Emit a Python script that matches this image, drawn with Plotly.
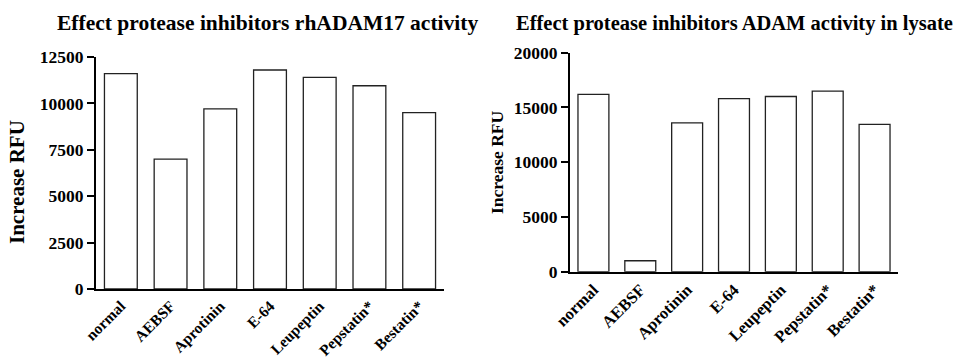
import plotly.graph_objects as go

categories = ["normal", "AEBSF", "Aprotinin", "E-64", "Leupeptin", "Pepstatin*", "Bestatin*"]
rh_adam17 = [11600, 7000, 9700, 11800, 11400, 10950, 9500]
lysate = [16200, 1000, 13600, 15800, 16000, 16500, 13450]
left_ticks = [0, 2500, 5000, 7500, 10000, 12500]
right_ticks = [0, 5000, 10000, 15000, 20000]

FONT = "Liberation Serif"
W, H = 956, 360

fig = go.Figure()
bar_style = dict(marker=dict(color="white", line=dict(color="#222222", width=1.3)), width=0.66, showlegend=False)
fig.add_trace(go.Bar(x=categories, y=rh_adam17, xaxis="x", yaxis="y", **bar_style))
fig.add_trace(go.Bar(x=categories, y=lysate, xaxis="x2", yaxis="y2", **bar_style))

tickfont = dict(family=FONT, size=17.5, color="black", weight="bold")
xcommon = dict(showgrid=False, zeroline=False, showline=True, linecolor="black", linewidth=2,
               ticks="", tickangle=-45,
               range=[-0.5, 6.5], type="category", automargin=False)
ycommon = dict(showgrid=False, zeroline=False, showline=True, linecolor="black", linewidth=2,
               ticks="outside", ticklen=7, tickwidth=2, tickcolor="black", tickfont=tickfont,
               automargin=False)

fig.update_layout(
    width=W, height=H,
    margin=dict(l=0, r=0, t=0, b=0),
    plot_bgcolor="white", paper_bgcolor="white",
    xaxis=dict(domain=[96 / W, 444 / W], anchor="y",
               tickfont=dict(family=FONT, size=15.5, color="black", weight="bold"), **xcommon),
    yaxis=dict(domain=[1 - 289 / H, 1 - 57 / H], anchor="x", range=[0, 12500],
               tickvals=left_ticks, ticktext=[str(v) for v in left_ticks], **ycommon),
    xaxis2=dict(domain=[570 / W, 898 / W], anchor="y2",
                tickfont=dict(family=FONT, size=16.5, color="black", weight="bold"), **xcommon),
    yaxis2=dict(domain=[1 - 271.7 / H, 1 - 52.7 / H], anchor="x2", range=[0, 20000],
                tickvals=right_ticks, ticktext=[str(v) for v in right_ticks], **ycommon),
    annotations=[
        dict(text="<b>Effect protease inhibitors rhADAM17 activity</b>", x=267 / W, y=1 - 23 / H,
             xref="paper", yref="paper", showarrow=False, xanchor="center", yanchor="middle",
             font=dict(family=FONT, size=21.5, color="black")),
        dict(text="<b>Effect protease inhibitors ADAM activity in lysate</b>", x=734 / W, y=1 - 23 / H,
             xref="paper", yref="paper", showarrow=False, xanchor="center", yanchor="middle",
             font=dict(family=FONT, size=20.5, color="black")),
        dict(text="<b>Increase RFU</b>", x=17 / W, y=1 - 182 / H, textangle=-90,
             xref="paper", yref="paper", showarrow=False, xanchor="center", yanchor="middle",
             font=dict(family=FONT, size=21, color="black")),
        dict(text="<b>Increase RFU</b>", x=497 / W, y=1 - 162 / H, textangle=-90,
             xref="paper", yref="paper", showarrow=False, xanchor="center", yanchor="middle",
             font=dict(family=FONT, size=17.5, color="black")),
    ],
)

fig.write_html("out.html")
